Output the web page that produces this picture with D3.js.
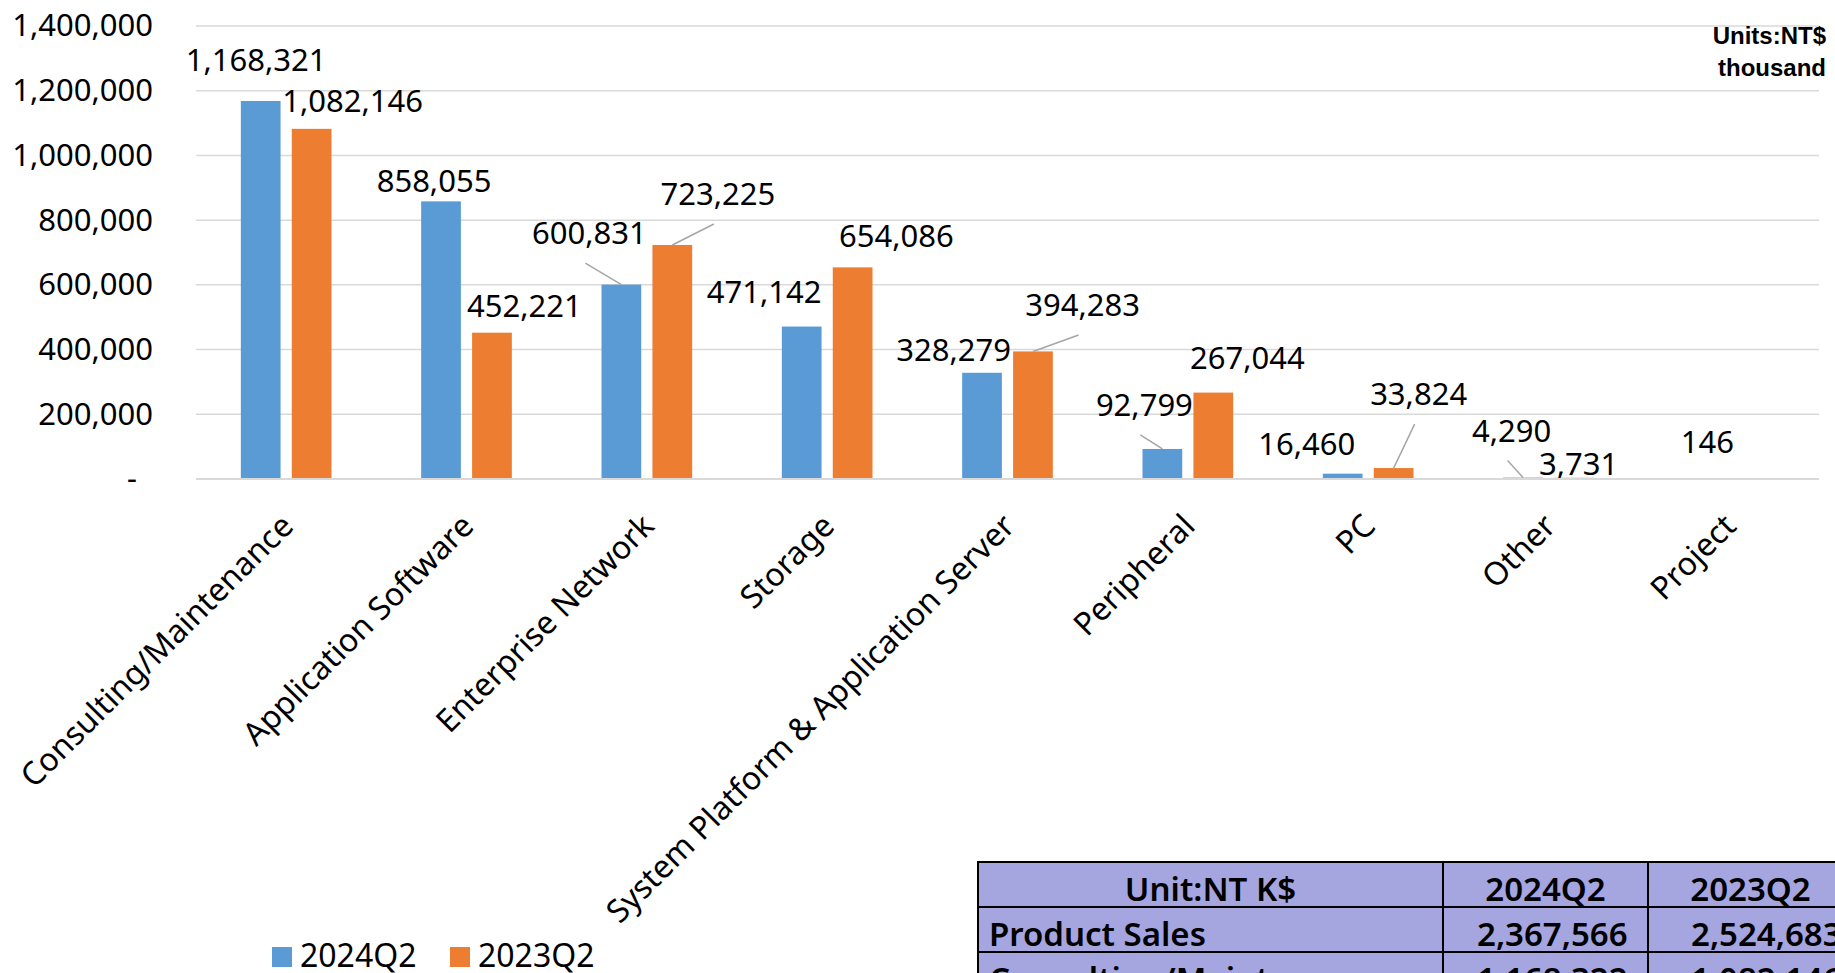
<!DOCTYPE html>
<html>
<head>
<meta charset="utf-8">
<script src="https://cdn.jsdelivr.net/npm/d3@7"></script>
<style>
  html, body { margin: 0; padding: 0; background: #fff; overflow: hidden; }
  svg { display: block; font-family: "Noto Sans", sans-serif; }
</style>
</head>
<body>
<script>
// data (NT$ thousand)
var categories = ["Consulting/Maintenance", "Application Software", "Enterprise Network", "Storage",
                  "System Platform & Application Server", "Peripheral", "PC", "Other", "Project"];
var seriesNames = ["2024Q2", "2023Q2"];
var values2024 = [1168321, 858055, 600831, 471142, 328279, 92799, 16460, 4290, 146];
var values2023 = [1082146, 452221, 723225, 654086, 394283, 267044, 33824, 3731, 0];
var yTicks = [0, 200000, 400000, 600000, 800000, 1000000, 1200000, 1400000];
var seriesColors = ["#5b9bd5", "#ed7d31"];

// table next to the chart
var tableHead = ["Unit:NT K$", "2024Q2", "2023Q2"];
var tableRows = [["Product Sales", "2,367,566", "2,524,683"],
                 ["Consulting/Maintenance", "1,168,322", "1,082,146"]];

// label nudges (moved by hand in the original), and which ones get a leader line
var nudge2024 = [[-4.5,-30],[-7,-9],[-32,-40.5],[-37.6,-24],[-28.5,-12],[-18,-33],[-36,-18.6],[-11.5,-36],[4,-26]];
var nudge2023 = [[41,-17],[32.5,-16],[45.6,-40],[43.7,-20.6],[49.6,-35.4],[34,-24],[25,-63],[4.6,-2.7],[0,0]];
var leader2024 = [0,0,1,0,0,1,0,1,0];
var leader2023 = [0,0,1,0,1,0,1,0,0];

var W = 1835, H = 973;
var plotLeft = 196, plotRight = 1819, plotTop = 26, plotBottom = 479;

var svg = d3.select("body").append("svg")
            .attr("width", W)
            .attr("height", H);

svg.append("rect").attr("width", W).attr("height", H).attr("fill", "#fff");

var x0 = d3.scaleBand().domain(categories).range([plotLeft, plotRight]);
var x1 = d3.scaleBand().domain(seriesNames).range([0, x0.bandwidth()])
           .paddingInner(0.22).paddingOuter(0.88);
var y = d3.scaleLinear().domain([0, 1400000]).range([plotBottom, plotTop]);

// gridlines
svg.append("g")
   .selectAll("line")
   .data(yTicks.filter(function(d) { return d > 0; }))
   .enter()
   .append("line")
   .attr("x1", plotLeft).attr("x2", plotRight)
   .attr("y1", function(d) { return y(d); })
   .attr("y2", function(d) { return y(d); })
   .attr("stroke", "#d9d9d9")
   .attr("stroke-width", 1.5);

// y axis labels
var yAxis = svg.append("g")
   .attr("transform", "translate(" + plotLeft + ",0)")
   .call(d3.axisLeft(y).tickValues(yTicks).tickSize(0).tickPadding(43)
           .tickFormat(function(d) { return d === 0 ? "-" : d3.format(",")(d); }));
yAxis.select(".domain").remove();
yAxis.selectAll("text")
     .style("font-family", "'Noto Sans', sans-serif")
     .style("font-size", "31px")
     .attr("fill", "#000")
     .attr("dx", function(d) { return d === 0 ? -16 : 0; });

// bars
var rows = categories.map(function(c, i) {
  return [
    {cat: c, s: seriesNames[0], v: values2024[i], n: nudge2024[i], lead: leader2024[i], color: seriesColors[0]},
    {cat: c, s: seriesNames[1], v: values2023[i], n: nudge2023[i], lead: leader2023[i], color: seriesColors[1]}
  ];
});

var groups = svg.append("g")
   .selectAll("g")
   .data(rows)
   .enter()
   .append("g")
   .attr("transform", function(d) { return "translate(" + x0(d[0].cat) + ",0)"; });

groups.selectAll("rect")
   .data(function(d) { return d; })
   .enter()
   .append("rect")
   .attr("x", function(d) { return x1(d.s); })
   .attr("y", function(d) { return y(d.v); })
   .attr("width", x1.bandwidth())
   .attr("height", function(d) { return plotBottom - y(d.v); })
   .attr("fill", function(d) { return d.color; });

// x axis line
svg.append("line")
   .attr("x1", plotLeft).attr("x2", plotRight)
   .attr("y1", plotBottom).attr("y2", plotBottom)
   .attr("stroke", "#d9d9d9")
   .attr("stroke-width", 2);

// data labels with leader lines
var labels = groups.selectAll("g.lbl")
   .data(function(d) { return d.filter(function(e) { return e.v > 0; }); })
   .enter()
   .append("g")
   .attr("class", "lbl");

function barCx(d) { return x1(d.s) + x1.bandwidth() / 2; }
function labX(d) { return barCx(d) + d.n[0]; }
function labY(d) { return y(d.v) + d.n[1]; }

labels.filter(function(d) { return d.lead; })
   .append("line")
   .attr("x1", function(d) { return labX(d) - 4; })
   .attr("y1", function(d) { return labY(d) + 19; })
   .attr("x2", barCx)
   .attr("y2", function(d) { return y(d.v); })
   .attr("stroke", "#a6a6a6")
   .attr("stroke-width", 1.5);

labels.append("text")
   .attr("x", labX)
   .attr("y", labY)
   .attr("text-anchor", "middle")
   .style("font-size", "31px")
   .attr("fill", "#000")
   .text(function(d) { return d3.format(",")(d.v); });

// category labels
var xAxis = svg.append("g")
   .attr("transform", "translate(0," + plotBottom + ")")
   .call(d3.axisBottom(x0).tickSize(0));
xAxis.select(".domain").remove();
xAxis.selectAll("text")
     .style("font-family", "'Noto Sans', sans-serif")
     .style("font-size", "32px")
     .attr("fill", "#000")
     .attr("text-anchor", "end")
     .attr("x", 0).attr("y", 0).attr("dy", 0)
     .attr("transform", "translate(9,49) rotate(-45)");

// units note
var units = svg.append("text")
   .attr("text-anchor", "end")
   .style("font-family", "'Liberation Sans', Arial, sans-serif")
   .style("font-weight", "bold")
   .style("font-size", "24px");
units.append("tspan").attr("x", 1826).attr("y", 44).text("Units:NT$");
units.append("tspan").attr("x", 1826).attr("y", 76).text("thousand");

// legend
var legend = svg.append("g")
   .selectAll("g")
   .data(seriesNames)
   .enter()
   .append("g")
   .attr("transform", function(d, i) { return "translate(" + (272 + i * 178) + ",947)"; });
legend.append("rect")
   .attr("width", 20).attr("height", 20)
   .attr("fill", function(d, i) { return seriesColors[i]; });
legend.append("text")
   .attr("x", 28).attr("y", 20)
   .style("font-size", "32px")
   .text(function(d) { return d; });

// table
var colX = [978, 1443, 1648, 1853];
var rowY = [862, 907, 952, 997];
var table = svg.append("g");
var allRows = [tableHead].concat(tableRows);
allRows.forEach(function(r, ri) {
  r.forEach(function(cell, ci) {
    table.append("rect")
         .attr("x", colX[ci]).attr("y", rowY[ri])
         .attr("width", colX[ci + 1] - colX[ci])
         .attr("height", rowY[ri + 1] - rowY[ri])
         .attr("fill", "#a5a5e0")
         .attr("stroke", "#000")
         .attr("stroke-width", 2);
  });
});
allRows.forEach(function(r, ri) {
  r.forEach(function(cell, ci) {
    var t = table.append("text")
         .attr("y", rowY[ri] + 39)
         .style("font-size", "33px")
         .style("font-weight", "600")
         .attr("fill", "#000")
         .text(cell);
    if (ri === 0) {
      t.attr("x", (colX[ci] + colX[ci + 1]) / 2).attr("text-anchor", "middle");
    } else if (ci === 0) {
      t.attr("x", colX[0] + 11);
    } else {
      t.attr("x", ci === 1 ? 1477 : 1691);
    }
  });
});
</script>
</body>
</html>
